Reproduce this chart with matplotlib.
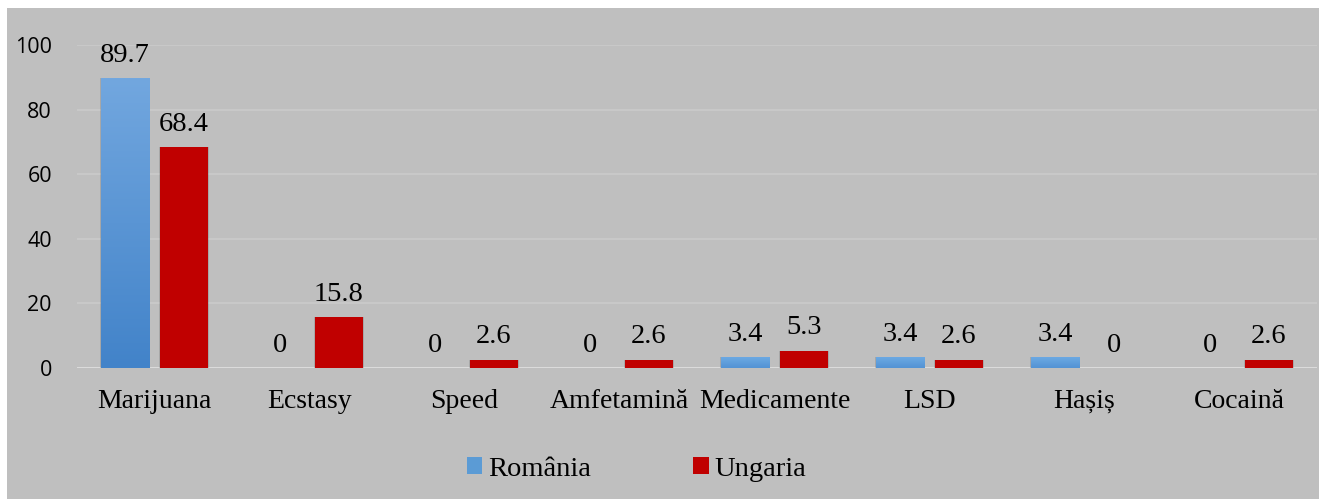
import matplotlib.pyplot as plt
import numpy as np
from matplotlib.patches import Rectangle
from matplotlib.colors import LinearSegmentedColormap

categories = ['Marijuana', 'Ecstasy', 'Speed', 'Amfetamină', 'Medicamente', 'LSD', 'Hașiș', 'Cocaină']
romania = [89.7, 0, 0, 0, 3.4, 3.4, 3.4, 0]
ungaria = [68.4, 15.8, 2.6, 2.6, 5.3, 2.6, 0, 2.6]
series_names = ['România', 'Ungaria']
y_ticks = [0, 20, 40, 60, 80, 100]

bg = '#bfbfbf'
blue = '#5b9bd5'
red = '#c00000'
serif = ['Liberation Serif', 'DejaVu Serif']
sans = ['Open Sans', 'DejaVu Sans']

fig = plt.figure(figsize=(13.19, 4.99), dpi=100, facecolor='white')
fig.patches.append(Rectangle((7 / 1319, 0), 1, 1 - 8 / 499, transform=fig.transFigure,
                             facecolor=bg, edgecolor='none', zorder=-10))

ax = fig.add_axes([77 / 1319, 1 - 368 / 499, 1240 / 1319, 323 / 499])
ax.set_facecolor('none')

x = np.arange(len(categories))
w = 0.315
off = 0.19

bars_r = ax.bar(x - off, romania, w, color=blue, zorder=3, label=series_names[0])
bars_u = ax.bar(x + off, ungaria, w, color=red, zorder=3, label=series_names[1])

# vertical gradient on the blue bars (tall bars get the full range, short ones stay light)
grad = np.linspace(0, 1, 256).reshape(-1, 1)
cm_tall = LinearSegmentedColormap.from_list('bt', ['#4283c9', '#72a7df'])
cm_short = LinearSegmentedColormap.from_list('bs', ['#5393d4', '#6ca9e3'])
for b in bars_r:
    h = b.get_height()
    if h <= 0:
        continue
    x0 = b.get_x()
    im = ax.imshow(grad, cmap=cm_tall if h > 20 else cm_short, aspect='auto', origin='lower',
                   extent=[x0, x0 + b.get_width(), 0, h], zorder=3.5,
                   vmin=0, vmax=1)
    im.set_clip_path(b)

# soft shadows
for b in list(bars_r) + list(bars_u):
    h = b.get_height()
    if h <= 0:
        continue
    ax.add_patch(Rectangle((b.get_x() - 0.006, -0.4), b.get_width() + 0.012, h + 0.4,
                           facecolor='#000000', alpha=0.12, edgecolor='none', zorder=2.8))

for xi, v in zip(x - off, romania):
    ax.annotate(f'{v:g}', (xi, v), xytext=(0, 7.5), textcoords='offset points',
                ha='center', va='bottom', fontsize=20.5, family=serif, zorder=5)
for xi, v in zip(x + off, ungaria):
    ax.annotate(f'{v:g}', (xi, v), xytext=(0, 7.5), textcoords='offset points',
                ha='center', va='bottom', fontsize=20.5, family=serif, zorder=5)

ax.set_xlim(-0.5, len(categories) - 0.5)
ax.set_ylim(0, 100)
ax.set_yticks(y_ticks)
ax.set_yticklabels([str(t) for t in y_ticks], family=sans, fontsize=15.5)
ax.set_xticks(x)
ax.set_xticklabels(categories, family=serif, fontsize=20)
ax.tick_params(axis='both', length=0)
ax.tick_params(axis='y', pad=18)
ax.tick_params(axis='x', pad=15)
for s in ax.spines.values():
    s.set_visible(False)
ax.grid(axis='y', color='#c9c9c9', linewidth=1.3, zorder=1)
ax.axhline(0, color='#dedede', linewidth=2, zorder=2)

fig.legend(handles=[bars_r, bars_u], labels=series_names, loc='center',
           bbox_to_anchor=(0.4825, 1 - 469 / 499), ncol=2, frameon=False,
           prop={'family': serif, 'size': 20.5}, handlelength=0.55, handleheight=0.55,
           handletextpad=0.2, columnspacing=3.6)

fig.savefig('out.png', dpi=100, facecolor='white')
